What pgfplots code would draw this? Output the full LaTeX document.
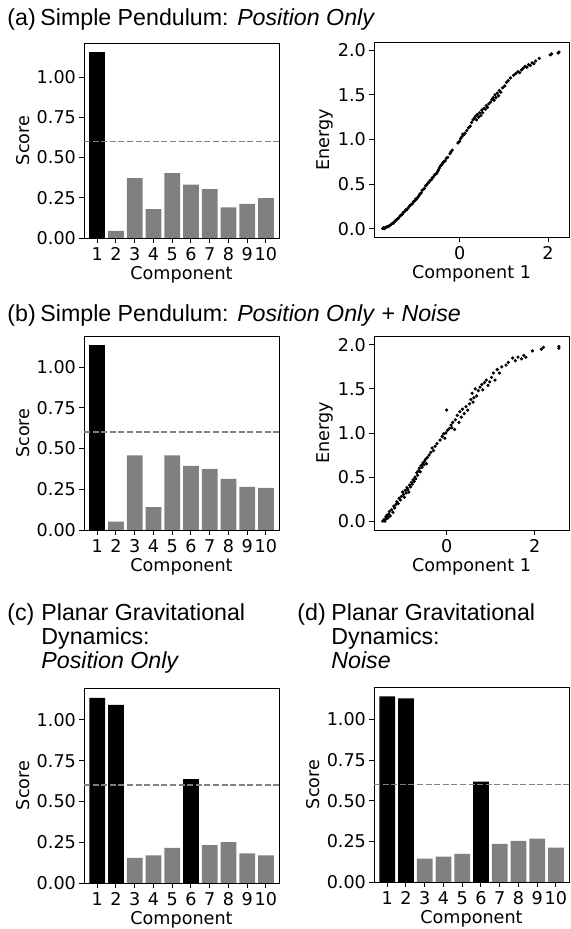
\documentclass[border=0pt]{standalone}
\usepackage{fontspec}
\setmainfont{DejaVu Sans}
\newfontfamily\titlefont{Liberation Sans}
\usepackage{pgfplots}
\pgfplotsset{compat=1.18}
\definecolor{mgray}{HTML}{808080}

\tikzset{ttl/.style={anchor=base west, inner sep=0pt, font=\titlefont\fontsize{11.6}{14}\selectfont}}
\pgfplotsset{
  base/.style={scale only axis, width=97.5pt, height=97.5pt,
    axis line style={line width=0.45pt},
    tick style={line width=0.45pt, black},
    major tick length=2.5pt, tick align=outside,
    xtick pos=bottom, ytick pos=left,
    tick label style={font=\fontsize{8.8}{10}\selectfont},
    x tick label style={yshift=1.2pt},
    y tick label style={xshift=2pt},
    label style={font=\fontsize{8.8}{10}\selectfont},
    /pgf/number format/assume math mode=true,
    xlabel style={yshift=4pt},
  },
  barax/.style={base, xmin=0.3, xmax=10.7, ymin=0,
    xtick={1,2,3,4,5,6,7,8,9,10},
    ytick={0,0.25,0.5,0.75,1},
    yticklabel style={/pgf/number format/.cd,fixed,fixed zerofill,precision=2},
    xlabel={Component}, ylabel={Score}, ylabel style={yshift=-3.5pt}},
  scax/.style={base,
    ytick={0,0.5,1,1.5,2}, xtick={0,2},
    yticklabel style={/pgf/number format/.cd,fixed,fixed zerofill,precision=1},
    xlabel={Component 1}, ylabel={Energy}, ylabel style={yshift=-4.5pt}},
  blk/.style={ybar, bar width=0.84, bar shift=0pt, fill=black, draw=none},
  gry/.style={ybar, bar width=0.84, bar shift=0pt, fill=mgray, draw=none},
  thr/.style={mgray, line width=0.8pt, dash pattern=on 3pt off 1.3pt},
  dots/.style={only marks, mark=*, mark size=0.6pt, black},
}

\begin{document}
\begin{tikzpicture}
\useasboundingbox (0,0) rectangle (285pt,464.5pt);

% titles
\node[ttl] at (3.5pt,451.5pt) {(a)};
\node[ttl] at (20pt,451.5pt) {Simple Pendulum: \textit{Position Only}};
\node[ttl] at (3.5pt,303.5pt) {(b)};
\node[ttl] at (20pt,303.5pt) {Simple Pendulum: \textit{Position Only} + \textit{Noise}};
\node[ttl] at (3.5pt,154pt) {(c)};
\node[ttl] at (20.5pt,154pt) {Planar Gravitational};
\node[ttl] at (20.5pt,142pt) {Dynamics:};
\node[ttl] at (20.5pt,130pt) {\textit{Position Only}};
\node[ttl] at (148.5pt,154pt) {(d)};
\node[ttl] at (165.5pt,154pt) {Planar Gravitational};
\node[ttl] at (165.5pt,142pt) {Dynamics:};
\node[ttl] at (165.5pt,130pt) {\textit{Noise}};

% (a) bars
\begin{axis}[barax, at={(42pt,345.5pt)}, anchor=south west, ymax=1.212]
\addplot[blk] coordinates {(1,1.154)};
\addplot[gry] coordinates {(2,0.044) (3,0.372) (4,0.179) (5,0.403) (6,0.331) (7,0.304) (8,0.191) (9,0.212) (10,0.247)};
\addplot[thr] coordinates {(0.3,0.6) (10.7,0.6)};
\end{axis}

% (a) scatter
\begin{axis}[scax, at={(187pt,346pt)}, anchor=south west, xmin=-1.94, xmax=2.475, ymin=-0.094, ymax=2.094]
\addplot[dots] table {
-1.74 0.00
-1.72 0.01
-1.70 0.00
-1.68 0.01
-1.65 0.02
-1.62 0.02
-1.60 0.03
-1.57 0.04
-1.55 0.05
-1.52 0.06
-1.50 0.06
-1.47 0.08
-1.45 0.09
-1.43 0.10
-1.40 0.11
-1.38 0.12
-1.35 0.14
-1.33 0.15
-1.30 0.16
-1.28 0.18
-1.25 0.19
-1.22 0.21
-1.20 0.21
-1.17 0.23
-1.14 0.25
-1.12 0.26
-1.10 0.27
-1.07 0.28
-1.05 0.30
-1.02 0.31
-1.00 0.33
-0.98 0.33
-0.95 0.35
-0.92 0.37
-0.90 0.39
-0.87 0.40
-0.85 0.43
-0.82 0.44
-0.80 0.45
-0.77 0.48
-0.75 0.49
-0.72 0.51
-0.70 0.52
-0.67 0.54
-0.64 0.55
-0.62 0.57
-0.60 0.58
-0.57 0.60
-0.55 0.61
-0.52 0.62
-0.50 0.64
-0.48 0.66
-0.46 0.68
-0.44 0.70
-0.42 0.71
-0.40 0.72
-0.38 0.74
-0.36 0.75
-0.33 0.76
-0.30 0.79
-0.27 0.80
-0.22 0.84
-0.20 0.86
-0.17 0.88
-0.04 0.96
-0.02 0.97
0.00 0.98
0.02 1.01
0.05 1.03
0.07 1.06
0.09 1.05
0.12 1.07
0.16 1.10
0.20 1.13
0.24 1.15
0.27 1.19
0.30 1.22
0.33 1.24
0.36 1.26
0.38 1.22
0.40 1.28
0.43 1.25
0.45 1.30
0.48 1.27
0.50 1.33
0.52 1.30
0.55 1.35
0.58 1.34
0.60 1.38
0.63 1.36
0.66 1.40
0.70 1.42
0.73 1.45
0.76 1.47
0.78 1.44
0.80 1.50
0.82 1.47
0.85 1.52
0.88 1.49
0.90 1.55
0.93 1.53
0.97 1.58
1.02 1.60
1.06 1.64
1.10 1.66
1.15 1.69
1.22 1.72
1.27 1.74
1.32 1.76
1.36 1.75
1.40 1.78
1.44 1.80
1.48 1.82
1.52 1.81
1.56 1.84
1.60 1.83
1.64 1.86
1.68 1.85
1.72 1.88
1.80 1.91
2.05 1.95
2.08 1.96
2.23 1.97
2.25 1.98
};
\end{axis}

% (b) bars
\begin{axis}[barax, at={(42pt,199.5pt)}, anchor=south west, height=97pt, ymax=1.19]
\addplot[blk] coordinates {(1,1.137)};
\addplot[gry] coordinates {(2,0.051) (3,0.457) (4,0.141) (5,0.457) (6,0.393) (7,0.375) (8,0.314) (9,0.264) (10,0.258)};
\addplot[thr] coordinates {(0.3,0.6) (10.7,0.6)};
\end{axis}

% (b) scatter
\begin{axis}[scax, at={(187pt,199.5pt)}, anchor=south west, height=97pt, xmin=-1.65, xmax=2.78, ymin=-0.10, ymax=2.10]
\addplot[dots] table {
-1.45 0.00
-1.42 0.02
-1.40 0.00
-1.38 0.05
-1.36 0.03
-1.35 0.07
-1.33 0.04
-1.31 0.08
-1.30 0.11
-1.28 0.06
-1.25 0.13
-1.22 0.10
-1.20 0.17
-1.18 0.15
-1.15 0.19
-1.13 0.22
-1.10 0.20
-1.08 0.26
-1.05 0.24
-1.03 0.28
-1.00 0.33
-0.98 0.30
-0.96 0.27
-0.94 0.35
-0.92 0.32
-0.90 0.38
-0.88 0.36
-0.86 0.33
-0.84 0.41
-0.82 0.39
-0.80 0.44
-0.78 0.42
-0.76 0.47
-0.74 0.45
-0.72 0.50
-0.70 0.48
-0.68 0.55
-0.66 0.52
-0.64 0.57
-0.62 0.60
-0.60 0.56
-0.58 0.63
-0.56 0.61
-0.54 0.66
-0.52 0.64
-0.50 0.68
-0.48 0.70
-0.46 0.65
-0.44 0.72
-0.40 0.75
-0.36 0.78
-0.33 0.83
-0.30 0.80
-0.26 0.85
-0.22 0.88
-0.15 0.92
-0.10 0.96
-0.07 0.99
-0.04 0.94
-0.02 1.00
0.02 1.03
0.00 1.26
0.06 1.05
0.10 1.09
0.14 1.12
0.12 1.06
0.18 1.04
0.20 1.15
0.24 1.20
0.28 1.12
0.30 1.24
0.33 1.18
0.36 1.27
0.40 1.22
0.44 1.30
0.48 1.26
0.52 1.33
0.55 1.38
0.58 1.45
0.60 1.35
0.62 1.40
0.65 1.50
0.68 1.42
0.72 1.48
0.76 1.52
0.80 1.55
0.82 1.49
0.86 1.57
0.90 1.60
0.94 1.54
0.98 1.58
1.02 1.63
1.06 1.68
1.10 1.60
1.15 1.72
1.20 1.68
1.25 1.75
1.35 1.77
1.40 1.80
1.50 1.85
1.56 1.82
1.62 1.86
1.70 1.84
1.75 1.88
1.80 1.86
1.95 1.93
2.15 1.95
2.20 1.97
2.55 1.98
2.55 1.96
};
\end{axis}

% (c) bars
\begin{axis}[barax, at={(42pt,23pt)}, anchor=south west, ymax=1.195]
\addplot[blk] coordinates {(1,1.135) (2,1.092) (6,0.637)};
\addplot[gry] coordinates {(3,0.154) (4,0.170) (5,0.215) (7,0.232) (8,0.250) (9,0.182) (10,0.170)};
\addplot[thr] coordinates {(0.3,0.6) (10.7,0.6)};
\end{axis}

% (d) bars
\begin{axis}[barax, at={(187pt,23.5pt)}, anchor=south west, ymax=1.2]
\addplot[blk] coordinates {(1,1.142) (2,1.130) (6,0.617)};
\addplot[gry] coordinates {(3,0.144) (4,0.156) (5,0.173) (7,0.235) (8,0.253) (9,0.267) (10,0.212)};
\addplot[thr] coordinates {(0.3,0.6) (10.7,0.6)};
\end{axis}
\end{tikzpicture}
\end{document}
